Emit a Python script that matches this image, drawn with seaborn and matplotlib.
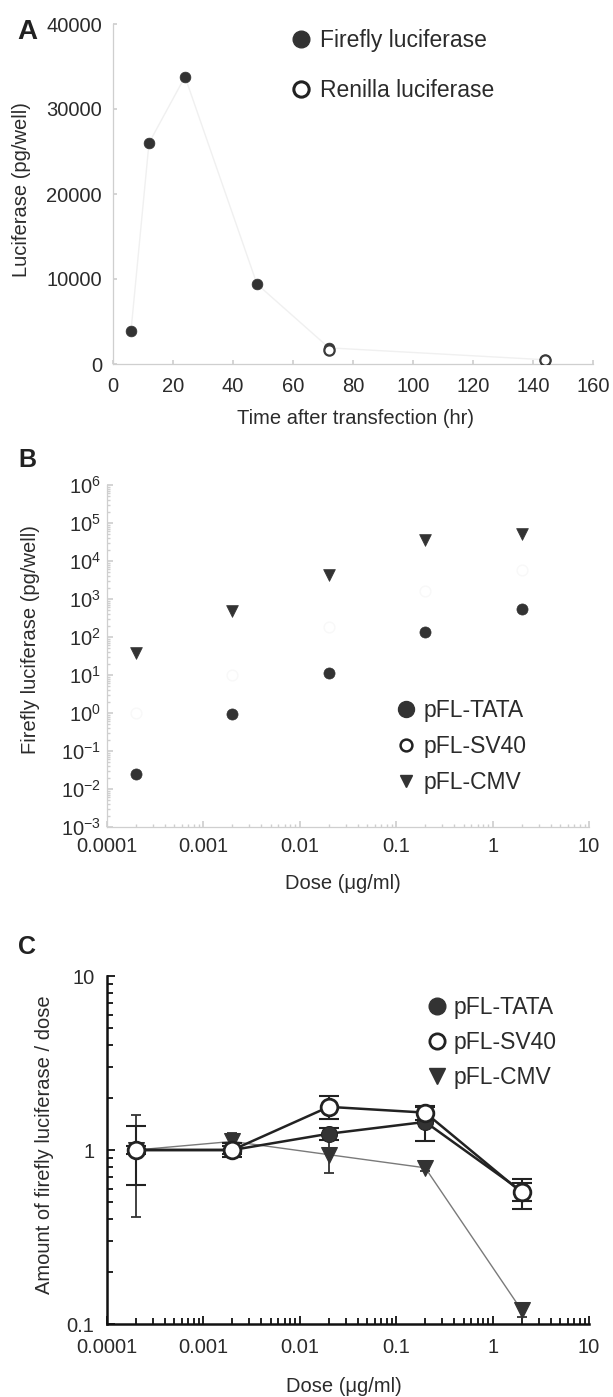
import numpy as np
import pandas as pd
import seaborn as sns
import matplotlib
matplotlib.use('Agg')
import matplotlib.pyplot as plt
from matplotlib.lines import Line2D
from matplotlib import ticker

# ---------------- data ----------------
# panel A: time course
time_ff = [6, 12, 24, 48, 72, 144]
firefly = [3900, 26000, 33800, 9400, 1900, 500]
time_rl = [72, 144]
renilla = [1650, 500]

# panel B: dose response (pg/well)
dose = [0.0002, 0.002, 0.02, 0.2, 2]
b_tata = [0.025, 0.95, 11, 135, 540]
b_sv40 = [1.0, 10, 180, 1600, 5700]
b_cmv = [38, 480, 4200, 35000, 52000]

# panel C: normalised amount / dose
c_tata = [1.0, 1.0, 1.24, 1.45, 0.58]
c_tata_err = [0.05, 0.05, 0.10, 0.32, 0.07]
c_sv40 = [1.0, 1.0, 1.77, 1.64, 0.57]
c_sv40_err = [0.37, 0.09, 0.27, 0.15, 0.11]
c_cmv = [1.0, 1.12, 0.94, 0.79, 0.12]
c_cmv_err = [0.59, 0.14, 0.20, 0.03, 0.01]

# ---------------- style ----------------
sns.set_theme(style='ticks')
plt.rcParams['font.family'] = ['Liberation Sans', 'DejaVu Sans']
plt.rcParams['mathtext.fontset'] = 'custom'
plt.rcParams['mathtext.rm'] = 'Liberation Sans'
plt.rcParams['mathtext.it'] = 'Liberation Sans:italic'
plt.rcParams['mathtext.default'] = 'regular'
plt.rcParams['axes.unicode_minus'] = False

TXT = '#2b2b2b'
DARK = '#333333'
FAINT = '#cfcfcf'
TICK_FS = 14.5
LAB_FS = 14.5
LEG_FS = 16.5

W, H = 613, 1397
fig = plt.figure(figsize=(W / 100, H / 100), dpi=100)


def rect(l, t, r, b):
    return [l / W, 1 - b / H, (r - l) / W, (b - t) / H]


def ax_xy(box, px, py):
    l, t, r, b = box
    return (px - l) / (r - l), (b - py) / (b - t)


boxA = (113, 24, 593, 364)
boxB = (107, 485, 589, 827)
boxC = (107, 976, 589, 1324)
axA = fig.add_axes(rect(*boxA))
axB = fig.add_axes(rect(*boxB))
axC = fig.add_axes(rect(*boxC))


def place_labels(ax, box, xl, yl, xtxt, ytxt):
    ax.set_xlabel(xtxt, fontsize=LAB_FS, color=TXT)
    ax.set_ylabel(ytxt, fontsize=LAB_FS, color=TXT)
    ax.xaxis.set_label_coords(*ax_xy(box, *xl))
    ax.yaxis.set_label_coords(*ax_xy(box, *yl))
    ax.xaxis.label.set_verticalalignment('center')
    ax.yaxis.label.set_verticalalignment('center')


def add_legend(ax, handles, labels, mx, my, row, tx):
    fs_px = LEG_FS * 100 / 72
    hl = 0.8
    left = mx - hl * fs_px / 2
    top = my - fs_px * 0.55 + 3.5
    leg = ax.legend(handles, labels, loc='upper left',
                    bbox_to_anchor=(left / W, 1 - top / H),
                    bbox_transform=fig.transFigure, frameon=False,
                    fontsize=LEG_FS, borderpad=0, borderaxespad=0,
                    handlelength=hl, handletextpad=(tx - left - hl * fs_px) / fs_px,
                    labelspacing=(row + 2.5 - fs_px * 1.1) / fs_px)
    for t in leg.get_texts():
        t.set_color(TXT)


# ---------------- panel A ----------------
dfA = pd.DataFrame({'time': time_ff, 'firefly': firefly})
dfR = pd.DataFrame({'time': time_rl, 'renilla': renilla})
sns.lineplot(data=dfA, x='time', y='firefly', ax=axA, color='#f0f0f0', lw=1)
sns.scatterplot(data=dfA, x='time', y='firefly', ax=axA, s=60, color=DARK,
                edgecolor=DARK, linewidth=0.5, zorder=3)
sns.scatterplot(data=dfR, x='time', y='renilla', ax=axA, s=55, facecolor='white',
                edgecolor='#3a3a3a', linewidth=1.6, zorder=4)
axA.set_xlim(0, 160)
axA.set_ylim(0, 40000)
axA.set_xticks(range(0, 161, 20))
axA.set_yticks(range(0, 40001, 10000))
axA.tick_params(axis='x', direction='in', length=3, color=FAINT, labelsize=TICK_FS,
                labelcolor=TXT, pad=9)
axA.tick_params(axis='y', direction='in', length=3, color=FAINT, labelsize=TICK_FS,
                labelcolor=TXT, pad=8)
place_labels(axA, boxA, (355, 418), (21.5, 190), 'Time after transfection (hr)',
             'Luciferase (pg/well)')
add_legend(axA,
           [Line2D([], [], ls='', marker='o', ms=12, mfc=DARK, mec=DARK),
            Line2D([], [], ls='', marker='o', ms=11, mfc='white', mec='#222', mew=2.2)],
           ['Firefly luciferase', 'Renilla luciferase'], 301, 38, 50, 320)
axA.text(*ax_xy(boxA, 27, 32), 'A', transform=axA.transAxes, fontsize=20,
         fontweight='bold', color='#222', ha='center', va='center')

# ---------------- panel B ----------------
axB.set_xscale('log')
axB.set_yscale('log')
dfB = pd.DataFrame({'dose': dose, 'tata': b_tata, 'sv40': b_sv40, 'cmv': b_cmv})
sns.scatterplot(data=dfB, x='dose', y='sv40', ax=axB, s=60, facecolor='white',
                edgecolor='#f8f8f8', linewidth=1.0)
sns.scatterplot(data=dfB, x='dose', y='tata', ax=axB, s=64, color=DARK,
                edgecolor=DARK, linewidth=0.5)
sns.scatterplot(data=dfB, x='dose', y='cmv', ax=axB, s=72, marker='v', color=DARK,
                edgecolor=DARK, linewidth=0.5)
axB.set_xlim(1e-4, 10)
axB.set_ylim(1e-3, 1e6)
axB.xaxis.set_major_locator(ticker.LogLocator(base=10, numticks=20))
axB.yaxis.set_major_locator(ticker.LogLocator(base=10, numticks=20))
axB.xaxis.set_minor_locator(ticker.LogLocator(base=10, subs=np.arange(2, 10), numticks=20))
axB.yaxis.set_minor_locator(ticker.LogLocator(base=10, subs=np.arange(2, 10), numticks=20))
axB.xaxis.set_major_formatter(ticker.FuncFormatter(lambda v, p: f'{v:g}'))
axB.xaxis.set_minor_formatter(ticker.NullFormatter())
axB.yaxis.set_minor_formatter(ticker.NullFormatter())
axB.tick_params(axis='x', which='both', direction='in', color=FAINT, labelsize=TICK_FS,
                labelcolor=TXT, pad=7)
axB.tick_params(axis='y', which='both', direction='in', color=FAINT, labelsize=TICK_FS,
                labelcolor=TXT, pad=4.5)
axB.tick_params(which='major', length=4)
axB.tick_params(which='minor', length=2)
place_labels(axB, boxB, (343, 883), (31, 640), 'Dose (\u03bcg/ml)',
             'Firefly luciferase (pg/well)')
add_legend(axB,
           [Line2D([], [], ls='', marker='o', ms=11.5, mfc=DARK, mec=DARK),
            Line2D([], [], ls='', marker='o', ms=8.5, mfc='white', mec='#222', mew=1.8),
            Line2D([], [], ls='', marker='v', ms=8.5, mfc=DARK, mec=DARK)],
           ['pFL-TATA', 'pFL-SV40', 'pFL-CMV'], 406, 708, 36, 424)
axB.text(*ax_xy(boxB, 27, 460), 'B', transform=axB.transAxes, fontsize=18,
         fontweight='bold', color='#222', ha='center', va='center', clip_on=False)

# ---------------- panel C ----------------
axC.set_xscale('log')
axC.set_yscale('log')
dfC = pd.DataFrame({'dose': dose, 'tata': c_tata, 'sv40': c_sv40, 'cmv': c_cmv})
axC.errorbar(dose, c_cmv, yerr=c_cmv_err, fmt='none', ecolor='#333', elinewidth=1.3,
             capsize=3.8, capthick=1.3, zorder=2)
sns.lineplot(data=dfC, x='dose', y='cmv', ax=axC, color='#7a7a7a', lw=1, marker='v',
             markersize=12, markerfacecolor=DARK, markeredgecolor=DARK, zorder=3)
axC.errorbar(dose, c_tata, yerr=c_tata_err, fmt='none', ecolor='#222', elinewidth=1.5,
             capsize=7, capthick=1.5, zorder=4)
sns.lineplot(data=dfC, x='dose', y='tata', ax=axC, color='#222', lw=1.8, marker='o',
             markersize=11.5, markerfacecolor=DARK, markeredgecolor='#222', zorder=5)
axC.errorbar(dose, c_sv40, yerr=c_sv40_err, fmt='none', ecolor='#222', elinewidth=1.5,
             capsize=7, capthick=1.5, zorder=6)
sns.lineplot(data=dfC, x='dose', y='sv40', ax=axC, color='#222', lw=1.8, marker='o',
             markersize=12, markerfacecolor='white', markeredgecolor='#222',
             markeredgewidth=2, zorder=7)
axC.set_xlim(1e-4, 10)
axC.set_ylim(0.1, 10)
axC.xaxis.set_major_locator(ticker.LogLocator(base=10, numticks=20))
axC.xaxis.set_minor_locator(ticker.LogLocator(base=10, subs=np.arange(2, 10), numticks=20))
axC.yaxis.set_major_locator(ticker.FixedLocator([0.1, 1, 10]))
axC.yaxis.set_minor_locator(ticker.LogLocator(base=10, subs=np.arange(2, 10), numticks=20))
axC.xaxis.set_major_formatter(ticker.FuncFormatter(lambda v, p: f'{v:g}'))
axC.yaxis.set_major_formatter(ticker.FuncFormatter(lambda v, p: f'{v:g}'))
axC.xaxis.set_minor_formatter(ticker.NullFormatter())
axC.yaxis.set_minor_formatter(ticker.NullFormatter())
axC.tick_params(axis='x', which='both', direction='in', color='#111', labelsize=TICK_FS,
                labelcolor=TXT, pad=10, width=1.3)
axC.tick_params(axis='y', which='both', direction='in', color='#111', labelsize=TICK_FS,
                labelcolor=TXT, pad=9, width=1.3)
axC.tick_params(which='major', length=6)
axC.tick_params(which='minor', length=4)
for s in ['left', 'bottom']:
    axC.spines[s].set_color('#111')
    axC.spines[s].set_linewidth(1.8)
place_labels(axC, boxC, (344, 1386), (45, 1145), 'Dose (\u03bcg/ml)',
             'Amount of firefly luciferase / dose')
add_legend(axC,
           [Line2D([], [], ls='', marker='o', ms=12, mfc=DARK, mec=DARK),
            Line2D([], [], ls='', marker='o', ms=11, mfc='white', mec='#222', mew=2),
            Line2D([], [], ls='', marker='v', ms=11, mfc=DARK, mec=DARK)],
           ['pFL-TATA', 'pFL-SV40', 'pFL-CMV'], 437, 1005, 35, 454)
axC.text(*ax_xy(boxC, 27, 947), 'C', transform=axC.transAxes, fontsize=18,
         fontweight='bold', color='#222', ha='center', va='center', clip_on=False)

for ax in (axA, axB):
    for s in ['left', 'bottom']:
        ax.spines[s].set_color(FAINT)
        ax.spines[s].set_linewidth(0.9)
for ax in (axA, axB, axC):
    ax.spines['top'].set_visible(False)
    ax.spines['right'].set_visible(False)

fig.savefig('out.png', dpi=100)
